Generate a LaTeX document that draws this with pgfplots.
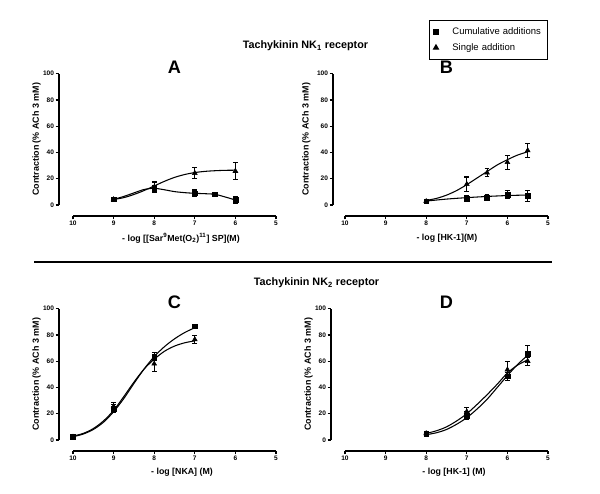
\documentclass[border=0pt]{standalone}
\usepackage{pgfplots}
\pgfplotsset{compat=1.18}
\usepackage{fontspec}
\setmainfont{Liberation Sans}
\pgfplotsset{
  gp/.style={
    scale only axis, width=152.25pt, height=98.5pt,
    xmin=5, xmax=10, x dir=reverse, ymin=0, ymax=100,
    axis lines=left, axis line style={-, line width=1.1pt},
    axis x line shift=8.25pt, axis y line shift=10.5pt,
    tick align=outside, xtick={5,6,...,10}, ytick={0,20,...,100},
    major tick length=2.6pt, tick style={line width=1pt, black},
    /pgf/number format/assume math mode=true,
    ticklabel style={font=\bfseries\fontsize{4.9}{5}\selectfont, inner sep=1pt},
    title style={font=\bfseries\fontsize{13.6}{14}\selectfont, at={(axis description cs:0.5,0.99)}, anchor=center},
    ylabel={Contraction (\% ACh 3 mM)},
    every axis y label/.style={at={(axis description cs:-0.18,0.5)}, rotate=90, anchor=center, font=\bfseries\fontsize{6.7}{7}\selectfont},
    clip=false,
    error bars/y dir=both, error bars/y explicit,
    error bars/error bar style={line width=0.8pt, black},
    error bars/error mark options={black, line width=0.8pt, mark size=1.8pt, rotate=90},
  },
  xl/.style 2 args={xlabel={#1}, every axis x label/.style={at={(axis description cs:#2)}, anchor=center, font=\bfseries\fontsize{6.6}{7}\selectfont}},
  cum/.style={only marks, mark=square*, mark size=1.8pt, black},
  sgl/.style={only marks, mark=triangle*, mark size=2.1pt, black},
  fit/.style={no marks, smooth, line width=0.8pt, black, forget plot},
}
\begin{document}
\begin{tikzpicture}
\useasboundingbox (0,0) rectangle (450pt,369.75pt);
% Titles and separator
\node[font=\bfseries\fontsize{8.1}{9}\selectfont] at (229.1pt,335.25pt) {Tachykinin NK\textsubscript{1} receptor};
\node[font=\bfseries\fontsize{8.1}{9}\selectfont] at (237.4pt,157.5pt) {Tachykinin NK\textsubscript{2} receptor};
\draw[line width=1.3pt] (25.5pt,173.25pt) -- (414pt,173.25pt);

% Panel A
\begin{axis}[gp, at={(54.75pt,216pt)}, anchor=south west, title={A},
  xl={- log [[Sar\textsuperscript{9}Met(O\textsubscript{2})\textsuperscript{11}] SP](M)}{0.532,-0.252}]
\addplot[fit] coordinates {(9,4.3) (8.75,6.5) (8.5,9.2) (8.25,11.8) (8,12.7) (7.75,11.6) (7.5,10.2) (7.25,9.4) (7,8.9) (6.75,8.6) (6.5,8.1) (6.25,6.1) (6,3.8)};
\addplot[fit] coordinates {(9,4.2) (8.75,5.6) (8.5,8) (8.25,11) (8,14.5) (7.75,18) (7.5,21) (7.25,23.2) (7,24.7) (6.75,25.6) (6.5,26.1) (6.25,26.4) (6,26.5)};
\addplot[cum] table[x=x, y=y, y error=e] {
x y e
9 4.3 0
8 12.7 2.5
7 8.9 2.5
6.5 8.1 0.8
6 3.8 2.5
};
\addplot[sgl] table[x=x, y=y, y error=e] {
x y e
9 4.2 0
8 13.5 4
7 24.2 4
6 25.8 6.5
};
\end{axis}

% Panel B
\begin{axis}[gp, at={(258.75pt,216pt)}, anchor=south west, title={B},
  axis y line shift=9pt,
  xl={- log [HK-1](M)}{0.502,-0.252},
  every axis y label/.style={at={(axis description cs:-0.19,0.5)}, rotate=90, anchor=center, font=\bfseries\fontsize{6.7}{7}\selectfont},
  legend image code/.code={\draw[#1, only marks] plot coordinates {(0pt,0pt)};},
  legend style={at={(axis description cs:0.414,1.412)}, anchor=north west,
    draw=black, line width=0.8pt, font=\fontsize{7.1}{8}\selectfont,
    row sep=4pt, inner xsep=3pt, inner ysep=5pt,
    nodes={text height=5.3pt, text depth=1.5pt, inner sep=0.5pt},
    /tikz/every odd column/.append style={column sep=10pt},
    text width=68pt},
  legend cell align=left]
\addplot[fit] coordinates {(8,3) (7.5,4.5) (7,5.6) (6.5,6.5) (6,7.2) (5.5,7.6)};
\addplot[fit] coordinates {(8,3.5) (7.75,5) (7.5,7.5) (7.25,11) (7,15.5) (6.75,20.5) (6.5,25.5) (6.25,30.5) (6,34.5) (5.75,38) (5.5,40.5)};
\addplot[cum] table[x=x, y=y, y error=e] {
x y e
8 2.8 0
7 5 2.3
6.5 5.8 2.3
6 7.8 3
5.5 6.8 4
};
\addlegendentry{Cumulative additions}
\addplot[sgl] table[x=x, y=y, y error=e] {
x y e
8 2.8 0
7 15.8 5.5
6.5 24.5 3
6 32.5 5.5
5.5 41.5 5.5
};
\addlegendentry{Single addition}
\end{axis}

% Panel C
\begin{axis}[gp, at={(54.75pt,39.75pt)}, anchor=south west, title={C},
  xl={- log [NKA] (M)}{0.537,-0.242}]
\addplot[fit] coordinates {(10,2.5) (9.75,4.5) (9.5,8) (9.25,13.5) (9,21.5) (8.75,31.5) (8.5,43) (8.25,54) (8,63.5) (7.75,71) (7.5,77) (7.25,81.8) (7,85.5)};
\addplot[fit] coordinates {(10,3) (9.75,5) (9.5,8.7) (9.25,14.5) (9,22.5) (8.75,33) (8.5,44) (8.25,54) (8,61.5) (7.75,67.5) (7.5,71.5) (7.25,74) (7,75.5)};
\addplot[cum] table[x=x, y=y, y error=e] {
x y e
10 2.3 0
9 24 3
8 63.5 3
7 86.6 0
};
\addplot[sgl] table[x=x, y=y, y error=e] {
x y e
10 2.3 0
9 25.5 3
8 58 6
7 76.5 3
};
\end{axis}

% Panel D
\begin{axis}[gp, at={(258.75pt,39.75pt)}, anchor=south west, title={D},
  xl={- log [HK-1] (M)}{0.537,-0.242}]
\addplot[fit] coordinates {(8,4) (7.75,5.5) (7.5,8) (7.25,12) (7,17) (6.75,23.5) (6.5,31) (6.25,40) (6,49) (5.75,57.5) (5.5,64.5)};
\addplot[fit] coordinates {(8,5) (7.75,7) (7.5,10) (7.25,14.5) (7,20) (6.75,27) (6.5,34.5) (6.25,42.5) (6,51) (5.75,57) (5.5,61)};
\addplot[cum] table[x=x, y=y, y error=e] {
x y e
8 4.6 0
7 18.5 3
6 48.5 3
5.5 65.8 6
};
\addplot[sgl] table[x=x, y=y, y error=e] {
x y e
8 5 0
7 21.6 3.5
6 53.5 6
5.5 60 3
};
\end{axis}
\end{tikzpicture}
\end{document}
